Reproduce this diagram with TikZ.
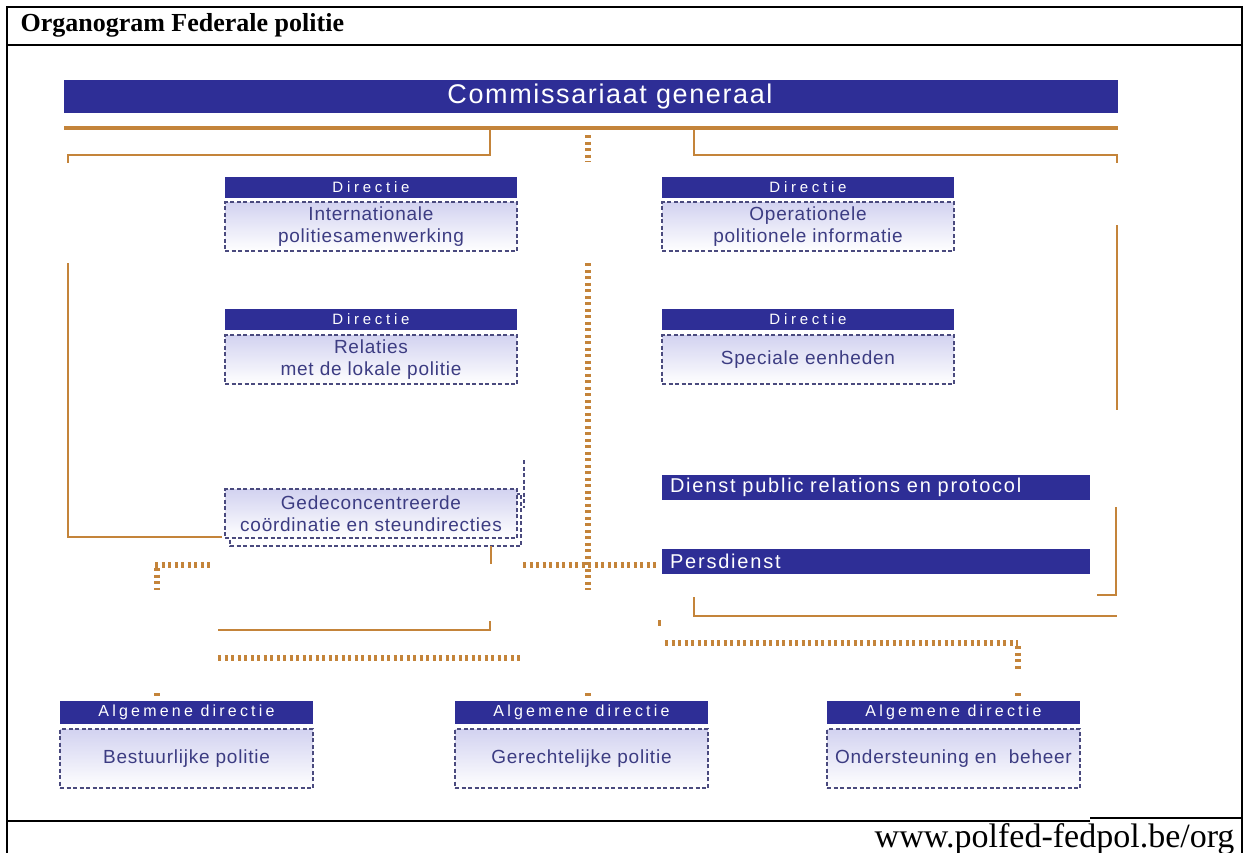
\documentclass[tikz,border=0pt]{standalone}
\usepackage{fontspec}
\setmainfont{Liberation Serif}
\setsansfont{Liberation Sans}
\newfontfamily\hdrfont[LetterSpace=25]{Liberation Sans}
\newfontfamily\ahdrfont[LetterSpace=20]{Liberation Sans}
\newfontfamily\boxfont[LetterSpace=4]{Liberation Sans}
\newfontfamily\barfont[LetterSpace=9]{Liberation Sans}
\newfontfamily\cgfont[LetterSpace=6]{Liberation Sans}
\definecolor{barblue}{HTML}{2E2E96}
\definecolor{orline}{HTML}{C4843A}
\definecolor{dashcol}{HTML}{4A4A7E}
\definecolor{boxtxt}{HTML}{3C3C82}
\definecolor{lav}{HTML}{D2D2F0}
\tikzset{
  frame/.style={line width=2.4pt, draw=black},
  bar/.style={fill=barblue, inner sep=0pt, text=white},
  hdr/.style={bar, minimum width=292pt, minimum height=21pt, font=\hdrfont\fontsize{15}{17}\selectfont},
  ahdr/.style={bar, minimum width=253pt, minimum height=23pt, font=\ahdrfont\fontsize{16}{18}\selectfont},
  dbox/.style={draw=dashcol, line width=1.2pt, dash pattern=on 4pt off 2.5pt,
     top color=lav, bottom color=white, text=boxtxt, align=center, inner sep=0pt,
     font=\boxfont\fontsize{19}{21.5}\selectfont},
  sbox/.style={draw=dashcol, line width=1.2pt, dash pattern=on 4pt off 2.5pt},
  wbar/.style={bar, minimum height=25pt, text width=412pt, inner xsep=8pt, align=left,
     font=\barfont\fontsize{20}{22}\selectfont},
  thinline/.style={draw=orline, line width=2pt},
  thickline/.style={draw=orline, line width=3.5pt},
  dotline/.style={draw=orline, line width=5.5pt, dash pattern=on 3pt off 3.5pt},
}
\begin{document}
\begin{tikzpicture}[x=1pt,y=-1pt]
\useasboundingbox (0,0) rectangle (1248,852);
% frame
\draw[frame] (7,860) -- (7,7) -- (1242,7) -- (1242,860);
\draw[frame] (7,45) -- (1242,45);
\draw[frame] (7,821) -- (1090,821);
\draw[frame] (1090,818) -- (1242,818);
\node[anchor=west, font=\bfseries\fontsize{26}{28}\selectfont] (title) at (17,25) {Organogram Federale politie};
\node[anchor=base east, font=\fontsize{34}{36}\selectfont] (url) at (1238,847) {www.polfed-fedpol.be/org};

% top bar
\node[bar, minimum width=1054pt, minimum height=33pt, font=\cgfont\fontsize{27}{29}\selectfont] (cg) at (591,96.5) {\hspace*{38pt}Commissariaat generaal};

% directies
\node[hdr] (h1) at (371,187.5) {Directie};
\node[dbox, minimum width=292pt, minimum height=49pt] (d1) at (371,226.5) {Internationale\\politiesamenwerking};
\node[hdr] (h2) at (371,319.5) {Directie};
\node[dbox, minimum width=292pt, minimum height=49pt] (d2) at (371,359.5) {Relaties\\met de lokale politie};
\node[hdr] (h3) at (808,187.5) {Directie};
\node[dbox, minimum width=292pt, minimum height=49pt] (d3) at (808,226.5) {Operationele\\politionele informatie};
\node[hdr] (h4) at (808,319.5) {Directie};
\node[dbox, minimum width=292pt, minimum height=49pt] (d4) at (808,359.5) {Speciale eenheden};

% gedeconcentreerde
\draw[sbox] (230,494) rectangle (521,546);
\draw[sbox] (524,460) -- (524,508);
\node[dbox, minimum width=292pt, minimum height=49pt] (gd) at (371,513.5) {Gedeconcentreerde\\coördinatie en steundirecties};

% services
\node[wbar] (pr) at (876,487.5) {Dienst public relations en protocol};
\node[wbar] (pd) at (876,561.5) {Persdienst};

% general directorates
\node[ahdr] (a1) at (186.5,712.5) {Algemene directie};
\node[ahdr] (a2) at (581.5,712.5) {Algemene directie};
\node[ahdr] (a3) at (953.5,712.5) {Algemene directie};
\node[dbox, minimum width=253pt, minimum height=59pt] (b1) at (186.5,758.5) {Bestuurlijke politie};
\node[dbox, minimum width=253pt, minimum height=59pt] (b2) at (581.5,758.5) {Gerechtelijke politie};
\node[dbox, minimum width=253pt, minimum height=59pt] (b3) at (953.5,758.5) {Ondersteuning en\ \ beheer};

% connectors
\coordinate (tl) at (64,128);
\coordinate (tr) at (1118,128);
\draw[thickline] (tl) -- (tr);
\draw[thinline] (490,128) -- (490,155) -- (68,155) -- (68,163);
\draw[thinline] (694,128) -- (694,155) -- (1117,155) -- (1117,163);
\draw[dotline] (588,135) -- (588,162);

\draw[thinline] (1117,225) -- (1117,410);
\draw[thinline] (68,263) -- (68,537) -- (222,537);

\draw[thinline] (491,546) -- (491,564);
\draw[dotline] (588,263) -- (588,590);
\draw[dotline] (523,565) -- (657,565);
\draw[dotline] (155,565) -- (213,565);
\draw[dotline] (157,568) -- (157,590);

\draw[thinline] (1116,507) -- (1116,595) -- (1097,595);
\draw[thinline] (694,597) -- (694,616) -- (1117,616);
\draw[draw=orline, line width=3pt] (659,620) -- (659,626);
\draw[dotline] (665,643) -- (1018,643);
\draw[dotline] (1018,646) -- (1018,669);

\draw[thinline] (490,621) -- (490,630) -- (218,630);
\draw[dotline] (218,658) -- (520,658);

\draw[dotline] (157,693) -- (157,696);
\draw[dotline] (588,693) -- (588,696);
\draw[dotline] (1018,693) -- (1018,696);
\end{tikzpicture}
\end{document}
